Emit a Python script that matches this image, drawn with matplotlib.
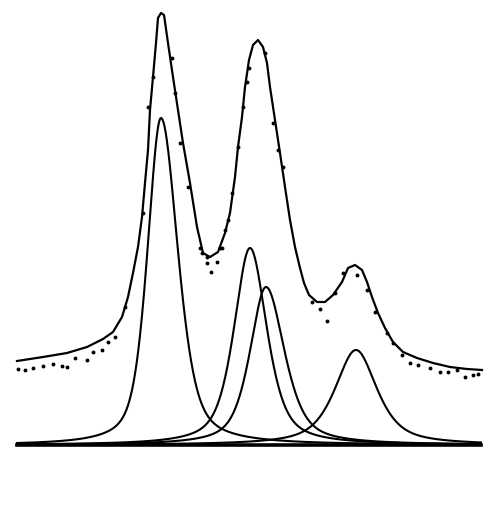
import numpy as np
import matplotlib
matplotlib.use("Agg")
import matplotlib.pyplot as plt

# fitted components: centre, height, left / right half width, lorentz fraction
centres = [161, 250, 266, 356]
heights = [327, 197, 158, 95]
hw_left = [16, 19, 19, 25]
hw_right = [20, 20, 22, 25]
eta = [0.5, 0.6, 0.6, 0.7]

# overall fit curve (drawn shifted up)
env_x = [17, 43, 67, 87, 103, 113, 122, 128, 133, 138, 142, 145, 148, 150,
         153, 156, 158, 161, 164, 168, 173, 178, 183, 190, 197, 203,
         210, 218, 225, 230, 235, 238, 242, 245, 249, 253, 258, 263, 267,
         270, 275, 280, 285, 290, 295, 300, 304, 309, 317, 325, 333, 342,
         348, 355, 362, 367, 372, 378, 385, 393, 403, 417, 433, 450, 467, 482]
env_y = [84, 88, 92, 98, 106, 113, 128, 148, 172, 198, 228, 262, 295, 335,
         368, 402, 427, 432, 430, 402, 368, 335, 302, 262, 218, 192,
         188, 193, 212, 232, 268, 298, 328, 358, 385, 400, 405, 398, 382,
         358, 325, 292, 258, 225, 198, 177, 162, 150, 143, 143, 150, 163,
         177, 180, 175, 163, 148, 132, 117, 103, 93, 87, 82, 78, 76, 75]

# measured points (channel, intensity)
obs_x = [18, 25, 33, 43, 53, 62, 67, 75, 87, 93, 102, 108, 115, 125,
         143, 148, 153, 172, 175, 180, 188, 200, 207,
         202, 207, 211, 217, 222, 220, 225, 228, 232, 238, 243, 247, 249,
         265, 273, 278, 283,
         312, 320, 327, 335, 343, 357, 367, 375, 387,
         393, 402, 410, 418, 430, 440, 448, 457, 465, 473, 478]
obs_y = [76, 75, 77, 79, 81, 79, 78, 87, 85, 93, 95, 103, 108, 138,
         232, 338, 368, 387, 352, 302, 258, 197, 188,
         192, 182, 173, 183, 197, 197, 215, 225, 252, 298, 338, 363, 377,
         392, 322, 295, 278,
         143, 136, 124, 152, 172, 170, 155, 133, 112,
         102, 90, 82, 80, 77, 73, 73, 75, 68, 70, 71]

x_lo, x_hi = 17, 481


def peak(x, c, h, wl, wr, e):
    w = np.where(x < c, wl, wr)
    u = (x - c) / w
    lor = 1.0 / (1.0 + u**2)
    gau = np.exp(-np.log(2) * u**2)
    return h * (e * lor + (1 - e) * gau)


x = np.linspace(x_lo, x_hi, 1200)

fig = plt.figure(figsize=(4.95, 5.25), dpi=100)
ax = fig.add_axes([0, 0, 1, 1])

ax.plot([x_lo, x_hi], [0, 0], color='black', lw=2.6)
for i in range(len(centres)):
    y = peak(x, centres[i], heights[i], hw_left[i], hw_right[i], eta[i])
    ax.plot(x, y, color='black', lw=1.5)
ax.plot(env_x, env_y, color='black', lw=1.6)
ax.plot(obs_x, obs_y, 'o', color='black', ms=2.8, mew=0)

ax.set_xlim(0, 495)
ax.set_ylim(-80, 445)
ax.axis('off')

plt.savefig('out.png', dpi=100, facecolor='white')
